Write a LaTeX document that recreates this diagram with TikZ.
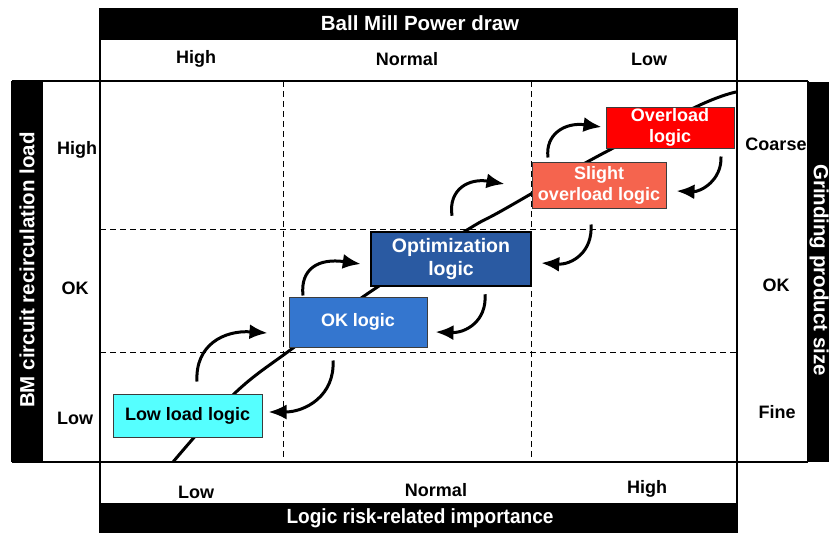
\documentclass[tikz,border=0pt]{standalone}
\usepackage{fontspec}
\setmainfont{Liberation Sans}
\usetikzlibrary{arrows.meta}
\definecolor{lowfill}{RGB}{85,255,255}
\definecolor{okfill}{RGB}{52,118,207}
\definecolor{optfill}{RGB}{42,90,162}
\definecolor{slightfill}{RGB}{245,100,78}
\definecolor{overfill}{RGB}{255,0,0}
\definecolor{boxedge}{RGB}{60,60,60}
\tikzset{
  frameline/.style={line width=2.2pt,black},
  gridline/.style={line width=0.9pt,black,dash pattern=on 6pt off 4pt},
  banner/.style={fill=black},
  bannertext/.style={text=white,font=\fontsize{20.5}{22}\selectfont\bfseries},
  axislabel/.style={font=\fontsize{18}{20}\selectfont\bfseries},
  logicbox/.style={draw=boxedge,line width=1pt,align=center,inner sep=0pt,
    font=\fontsize{18}{21}\selectfont\bfseries,text=white},
  movearrow/.style={line width=3pt,-{Latex[length=18pt,width=15pt]}},
  loadcurve/.style={line width=3pt,black}
}
\begin{document}
\begin{tikzpicture}[x=1pt,y=-1pt]
\useasboundingbox (0,0) rectangle (829,533);

% black title banners
\fill[banner] (100,8) rectangle (738,40);
\fill[banner] (100,503) rectangle (738,533);
\fill[banner] (12,81) rectangle (43,462);
\fill[banner] (808,82) rectangle (829,462);

\node[bannertext] (ttop) at (420,23) {Ball Mill Power draw};
\node[bannertext,xscale=0.93] (tbot) at (420,518) {Logic risk-related importance};
\node[bannertext,rotate=90] (tleft) at (27,270) {BM circuit recirculation load};
\node[bannertext,rotate=-90] (tright) at (819,270) {Grinding product size};

% dashed grid
\draw[gridline] (283,81) -- (283,462);
\draw[gridline] (531,81) -- (531,462);
\draw[gridline] (100,229) -- (736,229);
\draw[gridline] (100,352) -- (736,352);

% frame
\draw[frameline] (100,8) -- (100,533);
\draw[frameline] (737,8) -- (737,533);
\draw[frameline] (12,81) -- (808,81);
\draw[frameline] (12,462) -- (808,462);
\draw[frameline] (12,81) -- (12,462);
\draw[frameline] (808,81) -- (808,462);

% axis labels
\node[axislabel] (pHigh) at (196,59) {High};
\node[axislabel] (pNormal) at (407,59) {Normal};
\node[axislabel] (pLow) at (649,59) {Low};
\node[axislabel] (iLow) at (196,492) {Low};
\node[axislabel] (iNormal) at (436,490) {Normal};
\node[axislabel] (iHigh) at (647,489) {High};
\node[axislabel] (rHigh) at (77,150) {High};
\node[axislabel] (rOK) at (75,288) {OK};
\node[axislabel] (rLow) at (75,418) {Low};
\node[axislabel] (gCoarse) at (776,144) {Coarse};
\node[axislabel] (gOK) at (776,285) {OK};
\node[axislabel] (gFine) at (777,412) {Fine};

% operating curve
\draw[loadcurve] plot[smooth,tension=0.6] coordinates
  {(173,462) (235,393) (293,348) (370,292) (467,230) (503,210) (600,155) (700,105) (736,92)};

% logic boxes
\node[logicbox,fill=lowfill,text=black,minimum width=149pt,minimum height=43pt]
  (lowload) at (187.5,415.5) {Low load logic};
\node[logicbox,fill=okfill,minimum width=138pt,minimum height=50pt]
  (ok) at (358,322) {OK logic};
\node[logicbox,fill=optfill,draw=black,line width=2.5pt,minimum width=160pt,minimum height=54pt,
  font=\fontsize{19.5}{23}\selectfont\bfseries]
  (opt) at (451,259) {Optimization\\logic};
\node[logicbox,fill=slightfill,minimum width=134pt,minimum height=46pt]
  (slight) at (599,185) {Slight\\overload logic};
\node[logicbox,fill=overfill,minimum width=128pt,minimum height=41pt]
  (over) at (670,127.5) {Overload\\logic};

% transitions between logics
\draw[movearrow] ([shift={(9.5,-12)}]lowload.north) .. controls +(-2,-37) and +(-43,-3) .. ([shift={(-21,11)}]ok.west);
\draw[movearrow] ([shift={(-25,13)}]ok.south) .. controls +(2,35) and +(37,0) .. ([shift={(6,-3.5)}]lowload.east);
\draw[movearrow] ([shift={(-55,-1)}]ok.north) .. controls +(-3,-27) and +(-42,-6) .. ([shift={(-9,5)}]opt.west);
\draw[movearrow] ([shift={(34,7)}]opt.south) .. controls +(2,27) and +(30,1) .. ([shift={(8,10)}]ok.east);
\draw[movearrow] ([shift={(1,-15)}]opt.north) .. controls +(-4,-27) and +(-35,-6) .. ([shift={(-27,-1)}]slight.west);
\draw[movearrow] ([shift={(-8,16)}]slight.south) .. controls +(2,28) and +(30,2) .. ([shift={(9,4)}]opt.east);
\draw[movearrow] ([shift={(-51,-4)}]slight.north) .. controls +(-3,-23) and +(-37,-5) .. ([shift={(-4,-0.5)}]over.west);
\draw[movearrow] ([shift={(51,8)}]over.south) .. controls +(1,24) and +(24,1) .. ([shift={(10,6)}]slight.east);
\end{tikzpicture}
\end{document}
